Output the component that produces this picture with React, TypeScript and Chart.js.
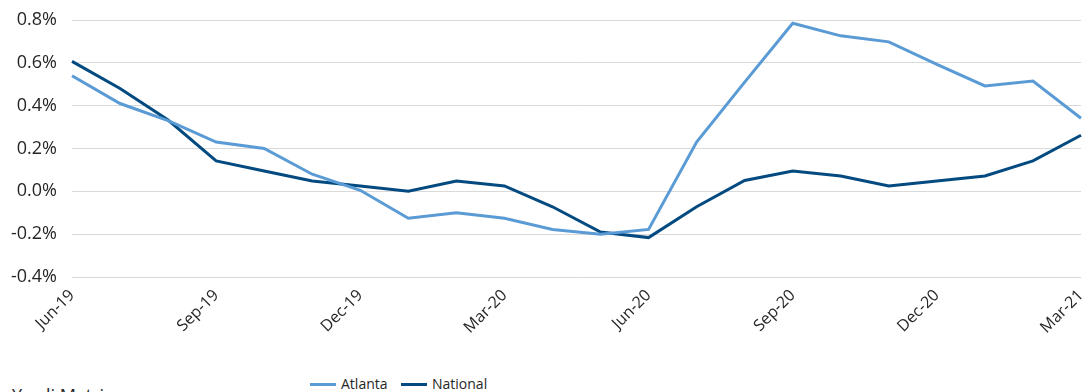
import React, { useEffect, useRef } from "react";
import { Chart, registerables } from "chart.js";

Chart.register(...registerables);

const months: string[] = [
  "Jun-19", "Jul-19", "Aug-19", "Sep-19", "Oct-19", "Nov-19", "Dec-19",
  "Jan-20", "Feb-20", "Mar-20", "Apr-20", "May-20", "Jun-20", "Jul-20",
  "Aug-20", "Sep-20", "Oct-20", "Nov-20", "Dec-20", "Jan-21", "Feb-21", "Mar-21",
];

const atlanta: number[] = [
  0.54, 0.41, 0.33, 0.23, 0.2, 0.08, 0.005, -0.126, -0.1, -0.126, -0.178,
  -0.2, -0.178, 0.23, 0.51, 0.785, 0.726, 0.698, 0.593, 0.492, 0.515, 0.341,
];

const national: number[] = [
  0.607, 0.48, 0.333, 0.142, 0.095, 0.048, 0.025, 0.0, 0.048, 0.025, -0.072,
  -0.19, -0.216, -0.072, 0.051, 0.095, 0.072, 0.025, 0.048, 0.072, 0.142, 0.262,
];

const yMin = -0.4;
const yMax = 0.8;
const yStep = 0.2;

const ATL_COLOR = "#5b9bd5";
const NAT_COLOR = "#034a80";
const FONT = "'Open Sans', sans-serif";
const TEXT = "#262626";

export default function App() {
  const ref = useRef<HTMLCanvasElement | null>(null);

  useEffect(() => {
    if (!ref.current) return;
    const chart = new Chart(ref.current, {
      type: "line",
      data: {
        labels: months,
        datasets: [
          {
            label: "Atlanta",
            data: atlanta,
            borderColor: ATL_COLOR,
            backgroundColor: ATL_COLOR,
            borderWidth: 3,
            pointRadius: 0,
            tension: 0,
          },
          {
            label: "National",
            data: national,
            borderColor: NAT_COLOR,
            backgroundColor: NAT_COLOR,
            borderWidth: 3,
            pointRadius: 0,
            tension: 0,
          },
        ],
      },
      options: {
        animation: false,
        responsive: false,
        layout: { padding: { top: 20, right: 8, left: 0, bottom: 0 } },
        plugins: {
          legend: { display: false },
          tooltip: { enabled: false },
        },
        scales: {
          x: {
            grid: { display: false, drawTicks: false },
            border: { display: false },
            afterFit: (s: any) => {
              s.height = 60;
              s.paddingLeft = 0;
              s.paddingRight = 0;
            },
            ticks: {
              autoSkip: false,
              minRotation: 45,
              maxRotation: 45,
              padding: 9,
              color: TEXT,
              font: { family: FONT, size: 16 },
              callback: (_v: any, i: number) => (i % 3 === 0 ? months[i] : ""),
            },
          },
          y: {
            min: yMin,
            max: yMax,
            grid: { color: "#d9d9d9", lineWidth: 1, drawTicks: false },
            border: { display: false },
            afterFit: (s: any) => {
              s.width = 72;
              s.paddingTop = 0;
              s.paddingBottom = 0;
            },
            ticks: {
              stepSize: yStep,
              padding: 15,
              color: TEXT,
              font: { family: FONT, size: 18 },
              callback: (v: any) => Number(v).toFixed(1) + "%",
            },
          },
        },
      },
    });
    return () => chart.destroy();
  }, []);

  const legendText = {
    position: "absolute" as const,
    top: 375,
    fontSize: 14,
    lineHeight: "18px",
    color: TEXT,
    whiteSpace: "nowrap" as const,
  };
  const legendLine = {
    position: "absolute" as const,
    top: 383,
    width: 26,
    height: 3,
  };

  return (
    <div
      style={{
        position: "fixed",
        left: 0,
        top: 0,
        width: 1089,
        height: 392,
        overflow: "hidden",
        background: "#fff",
        fontFamily: FONT,
      }}
    >
      <canvas ref={ref} width={1089} height={337} style={{ display: "block" }} />
      <span style={{ ...legendLine, left: 310, background: ATL_COLOR }} />
      <span style={{ ...legendText, left: 341 }}>Atlanta</span>
      <span style={{ ...legendLine, left: 401, background: NAT_COLOR }} />
      <span style={{ ...legendText, left: 432 }}>National</span>
      <div
        style={{
          position: "absolute",
          left: 12,
          top: 386,
          fontSize: 18,
          lineHeight: "18px",
          color: TEXT,
          whiteSpace: "nowrap",
        }}
      >
        Yardi Matrix
      </div>
    </div>
  );
}
